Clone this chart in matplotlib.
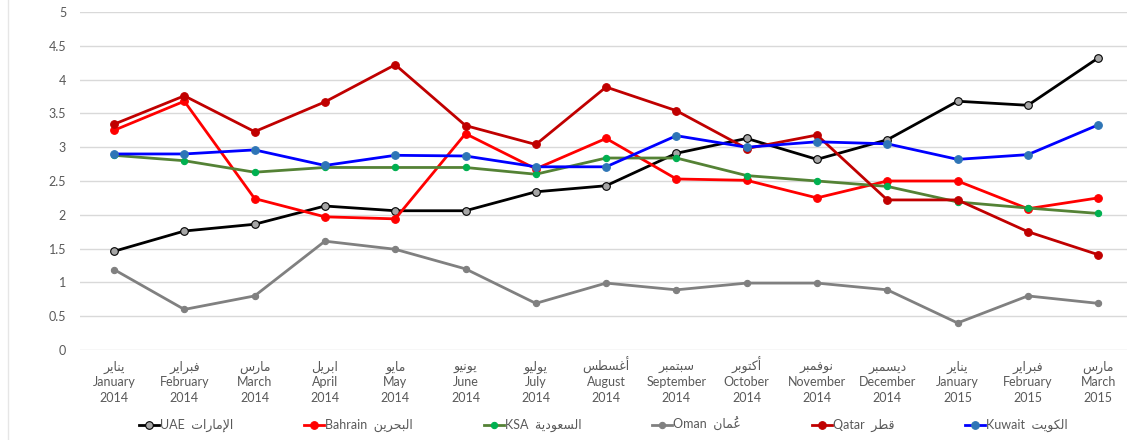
import matplotlib
matplotlib.use("Agg")
import matplotlib.pyplot as plt
from matplotlib.lines import Line2D

plt.rcParams["font.family"] = ["Lato", "DejaVu Sans"]

# data
months_ar = ["يناير", "فبراير", "مارس", "ابريل", "مايو", "يونيو", "يوليو", "أغسطس",
             "سبتمبر", "أكتوبر", "نوفمبر", "ديسمبر", "يناير", "فبراير", "مارس"]
months_en = ["January", "February", "March", "April", "May", "June", "July", "August",
             "September", "October", "November", "December", "January", "February", "March"]
years = ["2014"] * 12 + ["2015"] * 3

uae = [1.46, 1.76, 1.86, 2.13, 2.06, 2.06, 2.34, 2.43, 2.91, 3.13, 2.82, 3.11, 3.68, 3.62, 4.32]
bahrain = [3.25, 3.68, 2.24, 1.97, 1.94, 3.20, 2.68, 3.13, 2.53, 2.51, 2.25, 2.50, 2.50, 2.09, 2.25]
ksa = [2.88, 2.80, 2.63, 2.70, 2.70, 2.70, 2.60, 2.84, 2.84, 2.58, 2.50, 2.42, 2.19, 2.10, 2.02]
oman = [1.19, 0.60, 0.80, 1.61, 1.49, 1.20, 0.69, 0.99, 0.89, 0.99, 0.99, 0.89, 0.40, 0.80, 0.69]
qatar = [3.34, 3.76, 3.23, 3.67, 4.22, 3.32, 3.04, 3.89, 3.54, 2.98, 3.18, 2.22, 2.22, 1.75, 1.41]
kuwait = [2.90, 2.90, 2.96, 2.73, 2.88, 2.87, 2.71, 2.71, 3.17, 3.00, 3.08, 3.05, 2.82, 2.89, 3.33]

names_en = ["UAE", "Bahrain", "KSA", "Oman", "Qatar", "Kuwait"]
names_ar = ["الإمارات", "البحرين", "السعودية", "عُمان", "قطر", "الكويت"]


# matplotlib has no Arabic shaping, so pick the joined glyph forms by hand
FOUR = {"ب": 0xFE8F, "ت": 0xFE95, "ج": 0xFE9D, "ح": 0xFEA1, "س": 0xFEB1, "ط": 0xFEC1,
        "ع": 0xFEC9, "غ": 0xFECD, "ف": 0xFED1, "ق": 0xFED5, "ك": 0xFED9, "ل": 0xFEDD,
        "م": 0xFEE1, "ن": 0xFEE5, "ه": 0xFEE9, "ي": 0xFEF1}
TWO = {"أ": 0xFE83, "إ": 0xFE87, "ا": 0xFE8D, "ة": 0xFE93, "د": 0xFEA9, "ر": 0xFEAD, "و": 0xFEED}
LAM_ALEF = {"أ": 0xFEF7, "إ": 0xFEF9, "ا": 0xFEFB}
MARKS = {"\u064f"}


def shape(text):
    items = []
    i = 0
    while i < len(text):
        c = text[i]
        if c == "ل" and i + 1 < len(text) and text[i + 1] in LAM_ALEF:
            items.append(("la", LAM_ALEF[text[i + 1]]))
            i += 2
        else:
            items.append(("ch", c))
            i += 1
    out = []
    letters = [k for k, (t, c) in enumerate(items) if t == "la" or c in FOUR or c in TWO]
    for k, (t, c) in enumerate(items):
        if k not in letters:
            out.append(c)
            continue
        pos = letters.index(k)
        prev = items[letters[pos - 1]] if pos > 0 and all(
            items[j][1] in MARKS for j in range(letters[pos - 1] + 1, k)) else None
        nxt = items[letters[pos + 1]] if pos + 1 < len(letters) and all(
            items[j][1] in MARKS for j in range(k + 1, letters[pos + 1])) else None
        join_prev = prev is not None and prev[0] == "ch" and prev[1] in FOUR
        if t == "la":
            out.append(chr(c + (1 if join_prev else 0)))
            continue
        join_next = c in FOUR and nxt is not None
        if c in TWO:
            out.append(chr(TWO[c] + (1 if join_prev else 0)))
        else:
            base = FOUR[c]
            if join_prev and join_next:
                out.append(chr(base + 3))
            elif join_prev:
                out.append(chr(base + 1))
            elif join_next:
                out.append(chr(base + 2))
            else:
                out.append(chr(base))
    return "".join(reversed(out))


x = list(range(len(months_en)))

fig = plt.figure(figsize=(11.27, 4.4), dpi=100)
ax = fig.add_axes([80 / 1127, 90 / 440, 1047 / 1127, 338 / 440])

styles = [
    (uae, "black", "#A6A6A6", "black", 5.5),
    (bahrain, "#FF0000", "#FF0000", "#FF0000", 5.5),
    (ksa, "#548235", "#00B050", "#00B050", 4.5),
    (oman, "#808080", "#808080", "#808080", 4.5),
    (qatar, "#C00000", "#C00000", "#C00000", 5.5),
    (kuwait, "#0000FF", "#2E75B6", "#2E75B6", 5.5),
]
for (vals, lc, mfc, mec, ms), en, ar in zip(styles, names_en, names_ar):
    ax.plot(x, vals, color=lc, lw=2, marker="o", ms=ms, mfc=mfc, mec=mec, mew=0.8,
            label=en + "  " + shape(ar))

ax.set_ylim(0, 5)
ax.set_xlim(-0.484, 14.41)
ax.set_yticks([0, 0.5, 1, 1.5, 2, 2.5, 3, 3.5, 4, 4.5, 5])
ax.set_yticklabels(["0", "0.5", "1", "1.5", "2", "2.5", "3", "3.5", "4", "4.5", "5"])
ax.set_xticks(x)
ax.set_xticklabels([e + "\n" + y for e, y in zip(months_en, years)], linespacing=1.4)
ax.tick_params(axis="both", length=0, labelsize=9, colors="#595959")
ax.tick_params(axis="y", pad=10)
ax.tick_params(axis="x", pad=19)
# Arabic month names on their own baseline above the English names
for xi, a in zip(x, months_ar):
    ax.text(xi, -0.062, shape(a), transform=ax.get_xaxis_transform(), ha="center",
            va="baseline", fontsize=9, color="#595959")
ax.grid(axis="y", color="#D9D9D9", lw=1)
ax.set_axisbelow(True)
for s in ax.spines.values():
    s.set_visible(False)

leg = ax.legend(loc="center", bbox_to_anchor=(0.5, -0.221), ncol=6, frameon=False,
                fontsize=9, handlelength=1.6, handletextpad=0.1, columnspacing=5.65)
for t in leg.get_texts():
    t.set_color("#595959")

fig.add_artist(Line2D([8 / 1127, 8 / 1127], [0, 1], color="#E6E6E6", lw=1))

fig.savefig("out.png", dpi=100)
